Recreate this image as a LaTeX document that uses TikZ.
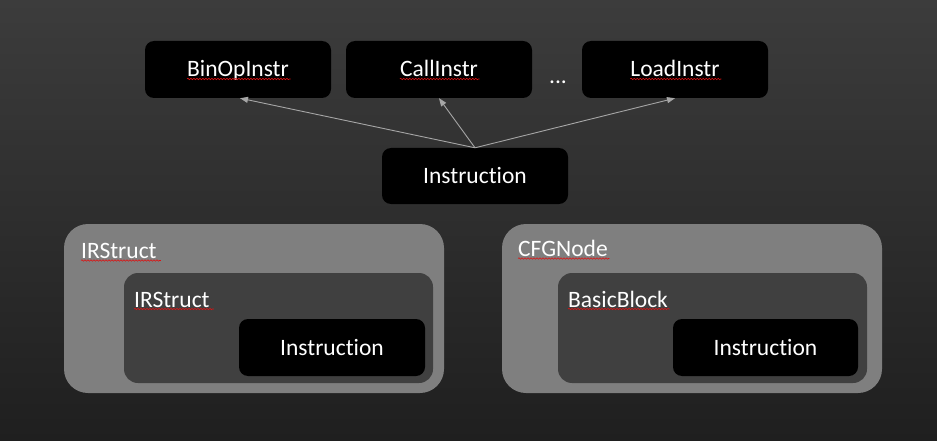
\documentclass[tikz,border=0pt]{standalone}
\usepackage{fontspec}
\setmainfont{Carlito}[RawFeature={-liga;-dlig;-clig}]
\usetikzlibrary{arrows.meta,decorations.pathmorphing}
\definecolor{bgtop}{HTML}{3C3C3C}
\definecolor{bgbot}{HTML}{1F1F1F}
\definecolor{outerfill}{HTML}{7F7F7F}
\definecolor{innerfill}{HTML}{404040}
\definecolor{arrowcol}{HTML}{A6A6A6}
\definecolor{squigcol}{HTML}{E01010}
\begin{document}
\begin{tikzpicture}[x=1pt,y=-1pt,
  blackbox/.style={rectangle, rounded corners=9pt, fill=black, draw=none, minimum width=186pt, minimum height=57pt, inner sep=0pt},
  outerbox/.style={rectangle, rounded corners=24pt, fill=outerfill, draw=none, minimum width=380pt, minimum height=169pt, inner sep=0pt},
  innerbox/.style={rectangle, rounded corners=14pt, fill=innerfill, draw=none, minimum width=309pt, minimum height=110pt, inner sep=0pt},
  txt/.style={inner sep=0pt, text=white, font=\fontsize{23.5pt}{28pt}\selectfont, anchor=base},
  lbl/.style={inner sep=0pt, text=white, font=\fontsize{23.5pt}{28pt}\selectfont, anchor=base west},
  squig/.style={draw=squigcol, line width=0.6pt, decorate, decoration={snake, amplitude=0.7pt, segment length=3pt}},
  inherit/.style={draw=arrowcol, line width=0.9pt, -{Triangle[length=8pt,width=6pt]}}
]
\shade[top color=bgtop, bottom color=bgbot] (0,0) rectangle (937,441);
\useasboundingbox (0,0) rectangle (937,441);

% top row
\node[blackbox] (binop) at (238,69.5) {};
\node[blackbox] (call) at (439,69.5) {};
\node[blackbox] (load) at (675,69.5) {};
\node[blackbox, minimum height=56pt] (instr) at (475,176) {};
\node[txt] (tbinop) at (238,77) {BinOpInstr};
\node[txt] (tcall) at (439,77) {CallInstr};
\node[txt] (tload) at (675,77) {LoadInstr};
\node[txt] (tdots) at (558,84) {...};
\node[txt] (tinstr) at (475,183.5) {Instruction};

\draw[inherit] (instr.north) -- ([xshift=2pt]binop.south);
\draw[inherit] (instr.north) -- (call.south);
\draw[inherit] (instr.north) -- (load.south);

% left container
\node[outerbox] (irouter) at (254,308.5) {};
\node[innerbox] (irinner) at (278.5,328) {};
\node[blackbox] (irinstr) at (332,347.5) {};
\node[lbl] (tirouter) at (81,258.5) {IRStruct};
\node[lbl] (tirinner) at (134,307) {IRStruct};
\node[txt] (tirinstr) at (332,355) {Instruction};

% right container
\node[outerbox] (cfgouter) at (692,308.5) {};
\node[innerbox] (bbinner) at (712.5,328) {};
\node[blackbox, minimum width=185pt] (bbinstr) at (765.5,347.5) {};
\node[lbl] (tcfg) at (518,256.5) {CFGNode};
\node[lbl] (tbb) at (568,307) {BasicBlock};
\node[txt] (tbbinstr) at (765.5,355) {Instruction};

% spell-check squiggles
\foreach \t in {tbinop,tcall,tload,tcfg,tbb}{
  \draw[squig] ([yshift=-2pt]\t.base west) -- ([yshift=-2pt,xshift=1.5pt]\t.base east);
}
\foreach \t in {tirouter,tirinner}{
  \draw[squig] ([yshift=-2pt]\t.base west) -- ([yshift=-2pt,xshift=4pt]\t.base east);
}
\end{tikzpicture}
\end{document}
